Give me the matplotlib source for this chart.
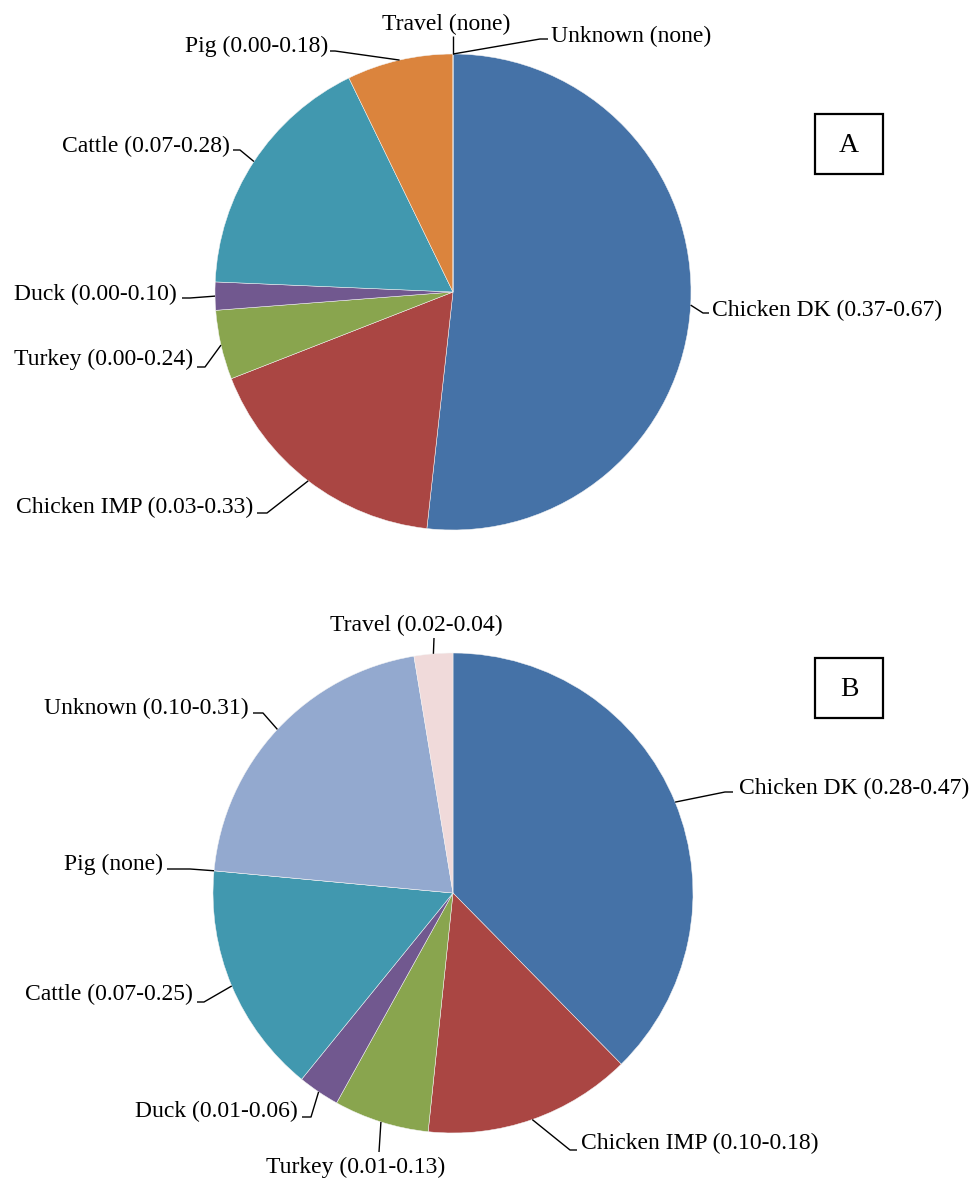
import matplotlib
matplotlib.use("Agg")
import matplotlib.pyplot as plt
from matplotlib.patches import Rectangle
import numpy as np

# ---- data ----
categories = ["Chicken DK", "Chicken IMP", "Turkey", "Duck", "Cattle", "Pig", "Unknown", "Travel"]
values_a = [0.517, 0.173, 0.047, 0.019, 0.171, 0.072, 0.0, 0.0]
ranges_a = ["0.37-0.67", "0.03-0.33", "0.00-0.24", "0.00-0.10", "0.07-0.28", "0.00-0.18", "none", "none"]
values_b = [0.376, 0.140, 0.064, 0.028, 0.156, 0.0, 0.209, 0.026]
ranges_b = ["0.28-0.47", "0.10-0.18", "0.01-0.13", "0.01-0.06", "0.07-0.25", "none", "0.10-0.31", "0.02-0.04"]
panel_names = ["A", "B"]

colors = ["#4572A7", "#AA4643", "#89A54E", "#71588F", "#4198AF", "#DB843D", "#93A9CF", "#F0DADA"]

# ---- layout (pixel coordinates) ----
centers = [(453, 292), (453, 893)]
radii = [238, 240]
# per label: knee point, end x, text anchor (x, baseline y), ha
layout_a = {
    "Chicken DK": ((703, 313), 709, (712, 316), "left"),
    "Chicken IMP": ((267, 513), 257, (253, 513), "right"),
    "Turkey": ((205, 367), 197, (193, 365), "right"),
    "Duck": ((190, 298), 182, (177, 300), "right"),
    "Cattle": ((240, 150), 233, (230, 152), "right"),
    "Pig": ((335, 51), 330, (328, 52), "right"),
    "Unknown": ((540, 39), 548, (551, 42), "left"),
    "Travel": ((453, 36), 453, (446, 30), "center"),
}
layout_b = {
    "Chicken DK": ((725, 792), 733, (739, 794), "left"),
    "Chicken IMP": ((570, 1150), 577, (581, 1149), "left"),
    "Turkey": ((379, 1152), 379, (356, 1173), "center"),
    "Duck": ((311, 1117), 302, (298, 1117), "right"),
    "Cattle": ((204, 1002), 197, (193, 1000), "right"),
    "Pig": ((190, 869), 167, (163, 870), "right"),
    "Unknown": ((263, 713), 253, (249, 714), "right"),
    "Travel": ((434, 638), 434, (416, 631), "center"),
}
layouts = [layout_a, layout_b]
boxes = [(815, 114, 68, 60), (815, 658, 68, 60)]

plt.rcParams["font.family"] = ["Liberation Serif", "DejaVu Serif"]

fig = plt.figure(figsize=(9.76, 11.8), dpi=100)
ax = fig.add_axes([0, 0, 1, 1])

for vals, rngs, center, r, lay, box, name in zip(
        [values_a, values_b], [ranges_a, ranges_b], centers, radii,
        layouts, boxes, panel_names):
    wedges, _ = ax.pie(vals, colors=colors, startangle=270, counterclock=True,
                       center=center, radius=r, normalize=True,
                       wedgeprops=dict(edgecolor="#f4f4f4", linewidth=0.35))
    for w, cat, rg in zip(wedges, categories, rngs):
        th = np.deg2rad((w.theta1 + w.theta2) / 2.0)
        ex = center[0] + r * np.cos(th)
        ey = center[1] + r * np.sin(th)
        (kx, ky), endx, (tx, ty), ha = lay[cat]
        ax.plot([ex, kx, endx], [ey, ky, ky], color="black", lw=1.0,
                solid_capstyle="butt", zorder=3)
        ax.text(tx, ty, f"{cat} ({rg})", ha=ha, va="baseline", fontsize=17,
                color="black")
    bx, by, bw, bh = box
    ax.add_patch(Rectangle((bx, by), bw, bh, fill=False, edgecolor="black", lw=1.6))
    ax.text(bx + bw / 2, by + bh / 2 + 1, name, ha="center", va="center", fontsize=20)

ax.set_xlim(0, 976)
ax.set_ylim(1180, 0)
ax.set_aspect("equal")
ax.axis("off")

fig.savefig("out.png", dpi=100, facecolor="white")
